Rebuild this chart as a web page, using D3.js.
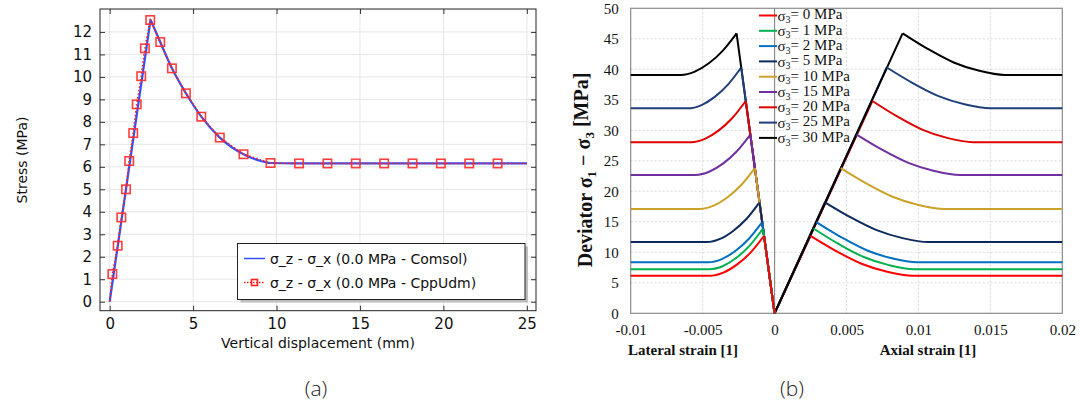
<!DOCTYPE html>
<html><head><meta charset="utf-8">
<script src="https://cdn.jsdelivr.net/npm/d3@7/dist/d3.min.js"></script>
<style>body{margin:0;background:#fff}svg{display:block}</style>
</head><body>
<svg id="c" width="1080" height="408"></svg>
<script>
// ---------- Chart (a) data ----------
const aXTicks = [0,5,10,15,20,25];
const aYTicks = [0,1,2,3,4,5,6,7,8,9,10,11,12];
const comsolDispRise = [0, 2.45];
const comsolStressRise = [0, 12.55];
const comsolDispFall = [2.45, 3.03, 3.73, 4.57, 5.49, 6.6, 8.02, 9.0, 9.64, 11.0, 25.0];
const comsolStressFall = [12.55, 11.55, 10.38, 9.27, 8.23, 7.30, 6.56, 6.27, 6.17, 6.15, 6.15];
const cppDisp = [0.16,0.48,0.70,0.98,1.17,1.41,1.62,1.89,2.11,2.43,3.03,3.73,4.57,5.49,6.60,8.02,9.64,11.35,13.05,14.75,16.45,18.15,19.85,21.55,23.25];
const cppStress = [1.23,2.49,3.75,5.00,6.26,7.50,8.78,10.03,11.27,12.53,11.55,10.38,9.27,8.23,7.30,6.56,6.17,6.15,6.15,6.15,6.15,6.15,6.15,6.15,6.15];
const aLegend = ["σ_z - σ_x (0.0 MPa - Comsol)", "σ_z - σ_x (0.0 MPa - CppUdm)"];

// ---------- Chart (b) data ----------
const bXTicks = [-0.01,-0.005,0,0.005,0.01,0.015,0.02];
const bXTickLabels = ["-0.01","-0.005","0","0.005","0.01","0.015","0.02"];
const bYTicks = [0,5,10,15,20,25,30,35,40,45,50];
const sigma3 = [0,1,2,5,10,15,20,25,30];
const bColors = ["#ff0000","#00b050","#0070c0","#0d2a5c","#c9a227","#7030a0","#e00000","#1f3f7a","#000000"];
// lateral branch: residual plateau -> hardening -> peak
const latX = [
 [-0.01,-0.0045,-0.00356,-0.00262,-0.00167,-0.00073],
 [-0.01,-0.0045,-0.00358,-0.00265,-0.00173,-0.0008],
 [-0.01,-0.0046,-0.00367,-0.00273,-0.0018,-0.00086],
 [-0.01,-0.0047,-0.00379,-0.00288,-0.00196,-0.00105],
 [-0.01,-0.0052,-0.00424,-0.00329,-0.00233,-0.00137],
 [-0.01,-0.0055,-0.00455,-0.00359,-0.00264,-0.00168],
 [-0.01,-0.0058,-0.00485,-0.0039,-0.00295,-0.002],
 [-0.01,-0.006,-0.00508,-0.00416,-0.00324,-0.00232],
 [-0.01,-0.0065,-0.00554,-0.00457,-0.00361,-0.00264]
];
const latY = [
 [6.15,6.15,6.67,7.98,9.95,12.7],
 [7.23,7.23,7.76,9.10,11.10,13.9],
 [8.36,8.36,8.89,10.21,12.18,14.95],
 [11.67,11.67,12.19,13.5,15.46,18.2],
 [17.1,17.1,17.64,18.98,20.99,23.8],
 [22.67,22.67,23.2,24.53,26.52,29.3],
 [28.05,28.05,28.59,29.94,31.97,34.8],
 [33.6,33.6,34.14,35.48,37.49,40.3],
 [39.07,39.07,39.62,40.98,43.03,45.9]
];
// axial branch: peak -> softening -> residual plateau
const axX = [
 [0.0025,0.00428,0.00605,0.00783,0.0096,0.02],
 [0.0027,0.00445,0.0062,0.00795,0.0097,0.02],
 [0.0029,0.00465,0.0064,0.00815,0.0099,0.02],
 [0.0035,0.0053,0.0071,0.0089,0.0107,0.02],
 [0.0046,0.0064,0.0082,0.0100,0.0118,0.02],
 [0.0057,0.0075,0.0093,0.0111,0.0129,0.02],
 [0.0068,0.00855,0.0103,0.01205,0.0138,0.02],
 [0.0078,0.0096,0.0114,0.0132,0.015,0.02],
 [0.0089,0.01068,0.01245,0.01423,0.016,0.02]
];
const axY = [
 [12.7,10.21,8.12,6.8,6.15,6.15],
 [13.9,11.37,9.23,7.9,7.23,7.23],
 [14.95,12.45,10.34,9.02,8.36,8.36],
 [18.2,15.72,13.63,12.32,11.67,11.67],
 [23.8,21.25,19.11,17.77,17.1,17.1],
 [29.3,26.78,24.66,23.33,22.67,22.67],
 [34.8,32.23,30.07,28.72,28.05,28.05],
 [40.3,37.75,35.61,34.27,33.6,33.6],
 [45.9,43.3,41.12,39.75,39.07,39.07]
];

const svg = d3.select("#c");

// ================= Chart (a) =================
(function(){
  const L=100,R=536,T=9,B=310.7;
  const x = d3.scaleLinear().domain([-0.58,25.55]).range([L,R]);
  const y = d3.scaleLinear().domain([-0.4,13.02]).range([B,T]);
  const g = svg.append("g");
  const font = "DejaVu Sans, sans-serif";
  g.selectAll(".gx").data(aXTicks).join("line").attr("x1",d=>x(d)).attr("x2",d=>x(d)).attr("y1",T).attr("y2",B).attr("stroke","#e6e6e6");
  g.selectAll(".gy").data(aYTicks).join("line").attr("y1",d=>y(d)).attr("y2",d=>y(d)).attr("x1",L).attr("x2",R).attr("stroke","#e6e6e6");
  const ax = g.append("g").attr("transform",`translate(0,${B})`).call(d3.axisBottom(x).tickValues(aXTicks).tickSizeInner(-5).tickSizeOuter(0).tickPadding(8));
  const ay = g.append("g").attr("transform",`translate(${L},0)`).call(d3.axisLeft(y).tickValues(aYTicks).tickSizeInner(-5).tickSizeOuter(0).tickPadding(8));
  const at = g.append("g").attr("transform",`translate(0,${T})`).call(d3.axisTop(x).tickValues(aXTicks).tickSizeInner(-5).tickSizeOuter(0).tickFormat(""));
  const ar = g.append("g").attr("transform",`translate(${R},0)`).call(d3.axisRight(y).tickValues(aYTicks).tickSizeInner(-5).tickSizeOuter(0).tickFormat(""));
  [ax,ay,at,ar].forEach(a=>{a.select(".domain").remove();a.selectAll("line").attr("stroke","#333");a.selectAll("text").attr("font-family",font).attr("font-size",15).attr("fill","#111");});
  g.append("rect").attr("x",L).attr("y",T).attr("width",R-L).attr("height",B-T).attr("fill","none").attr("stroke","#222").attr("stroke-width",1);
  const lineLin = d3.line().x(d=>x(d[0])).y(d=>y(d[1]));
  const lineMono = d3.line().x(d=>x(d[0])).y(d=>y(d[1])).curve(d3.curveMonotoneX);
  const rise = comsolDispRise.map((d,i)=>[d,comsolStressRise[i]]);
  const fall = comsolDispFall.map((d,i)=>[d,comsolStressFall[i]]);
  g.append("path").attr("d",lineLin(rise)).attr("fill","none").attr("stroke","#3050ff").attr("stroke-width",2.2);
  g.append("path").attr("d",lineMono(fall)).attr("fill","none").attr("stroke","#3050ff").attr("stroke-width",2.2);
  const cpp = [[0,0]].concat(cppDisp.map((d,i)=>[d,cppStress[i]]));
  const cppAll = cpp.concat([[25,6.15]]);
  g.append("path").attr("d",lineLin(cppAll)).attr("fill","none").attr("stroke","#ff2020").attr("stroke-width",1.6).attr("stroke-dasharray","1.6,2");
  g.selectAll(".mk").data(cppDisp.map((d,i)=>[d,cppStress[i]])).join("rect")
    .attr("x",d=>x(d[0])-4.2).attr("y",d=>y(d[1])-4.2).attr("width",8.4).attr("height",8.4)
    .attr("fill","none").attr("stroke","#ff2a2a").attr("stroke-width",1.6).attr("stroke-opacity",0.9);
  const lx=237.5,ly=243.5,lw=287.5,lh=56;
  g.append("rect").attr("x",lx+3).attr("y",ly+3).attr("width",lw).attr("height",lh).attr("fill","#bdbdbd");
  g.append("rect").attr("x",lx).attr("y",ly).attr("width",lw).attr("height",lh).attr("fill","#fff").attr("stroke","#222");
  const r1=258.5,r2=282.5;
  g.append("line").attr("x1",244).attr("x2",265).attr("y1",r1).attr("y2",r1).attr("stroke","#3050ff").attr("stroke-width",1.5);
  g.append("line").attr("x1",244).attr("x2",265).attr("y1",r2).attr("y2",r2).attr("stroke","#ff2020").attr("stroke-width",1.5).attr("stroke-dasharray","1.5,1.5");
  g.append("rect").attr("x",251.5).attr("y",r2-3).attr("width",6).attr("height",6).attr("fill","none").attr("stroke","#ff2020").attr("stroke-width",1.6);
  g.selectAll(".lt").data(aLegend).join("text").attr("x",270).attr("y",(d,i)=>i?r2:r1).attr("dy","0.36em")
    .attr("font-family",font).attr("font-size",14).attr("fill","#111").text(d=>d);
  g.append("text").attr("transform","translate(22,160) rotate(-90)").attr("text-anchor","middle").attr("dy","0.36em")
    .attr("font-family",font).attr("font-size",14).attr("fill","#111").text("Stress (MPa)");
  g.append("text").attr("x",318).attr("y",343).attr("text-anchor","middle").attr("dy","0.36em")
    .attr("font-family",font).attr("font-size",14).attr("fill","#111").text("Vertical displacement (mm)");
  g.append("text").attr("x",316).attr("y",388).attr("text-anchor","middle").attr("dy","0.36em")
    .attr("font-family","Open Sans, sans-serif").attr("font-weight",300).attr("font-size",21).attr("fill","#222").text("(a)");
})();

// ================= Chart (b) =================
(function(){
  const L=630.7,R=1062.3,T=8.3,B=313.3;
  const x = d3.scaleLinear().domain([-0.01,0.02]).range([L,R]);
  const y = d3.scaleLinear().domain([0,50]).range([B,T]);
  const g = svg.append("g");
  const serif = "Liberation Serif, 'Times New Roman', serif";
  g.selectAll(".gx").data(bXTicks.slice(1,-1)).join("line").attr("x1",d=>x(d)).attr("x2",d=>x(d)).attr("y1",T).attr("y2",B).attr("stroke","#d9d9d9").attr("stroke-dasharray","2,2");
  g.selectAll(".gy").data(bYTicks.slice(1,-1)).join("line").attr("y1",d=>y(d)).attr("y2",d=>y(d)).attr("x1",L).attr("x2",R).attr("stroke","#d9d9d9").attr("stroke-dasharray","2,2");
  g.append("rect").attr("x",L).attr("y",T).attr("width",R-L).attr("height",B-T).attr("fill","none").attr("stroke","#8c8c8c").attr("stroke-width",1.2);
  g.append("line").attr("x1",x(0)).attr("x2",x(0)).attr("y1",T).attr("y2",B).attr("stroke","#8c8c8c").attr("stroke-width",1.2);
  const ax = g.append("g").attr("transform",`translate(0,${B})`).call(d3.axisBottom(x).tickValues(bXTicks).tickFormat((d,i)=>bXTickLabels[i]).tickSize(0).tickPadding(11));
  const ay = g.append("g").attr("transform",`translate(${L},0)`).call(d3.axisLeft(y).tickValues(bYTicks).tickSize(0).tickPadding(12));
  [ax,ay].forEach(a=>{a.select(".domain").remove();a.selectAll("text").attr("font-family",serif).attr("font-size",15).attr("fill","#111");});
  const lineMono = d3.line().x(d=>x(d[0])).y(d=>y(d[1])).curve(d3.curveMonotoneX);
  const lineLin = d3.line().x(d=>x(d[0])).y(d=>y(d[1]));
  sigma3.forEach((s,i)=>{
    g.append("path").attr("d",lineLin([[0,0],[axX[i][0],axY[i][0]]])).attr("fill","none").attr("stroke",bColors[i]).attr("stroke-width",2);
  });
  sigma3.forEach((s,i)=>{
    const lat = latX[i].map((d,j)=>[d,latY[i][j]]);
    const axl = axX[i].map((d,j)=>[d,axY[i][j]]);
    g.append("path").attr("d",lineMono(lat)).attr("fill","none").attr("stroke",bColors[i]).attr("stroke-width",2);
    g.append("path").attr("d",lineMono(axl)).attr("fill","none").attr("stroke",bColors[i]).attr("stroke-width",2);
  });
  sigma3.slice().reverse().forEach((s,k)=>{
    const i = sigma3.length-1-k;
    const last = latX[i].length-1;
    g.append("path").attr("d",lineLin([[latX[i][last],latY[i][last]],[0,0]])).attr("fill","none").attr("stroke",bColors[i]).attr("stroke-width",2);
  });
  const lg = g.append("g");
  sigma3.forEach((s,i)=>{
    const yy = 15.5 + i*15.3;
    lg.append("line").attr("x1",759).attr("x2",777).attr("y1",yy).attr("y2",yy).attr("stroke",bColors[i]).attr("stroke-width",2);
    const t = lg.append("text").attr("x",777.5).attr("y",yy).attr("dy","0.34em").attr("font-family",serif).attr("font-size",15).attr("fill","#111");
    t.append("tspan").text("σ");
    t.append("tspan").attr("font-size",10).attr("dy","0.25em").text("3");
    t.append("tspan").attr("dy","-0.25em").text("= " + s + " MPa");
  });
  const yl = g.append("text").attr("transform","translate(585,170) rotate(-90)").attr("text-anchor","middle").attr("dy","0.35em")
    .attr("font-family",serif).attr("font-weight","bold").attr("font-size",20).attr("fill","#111");
  yl.append("tspan").text("Deviator σ");
  yl.append("tspan").attr("font-size",13).attr("dy","0.3em").text("1");
  yl.append("tspan").attr("dy","-0.3em").text(" − σ");
  yl.append("tspan").attr("font-size",13).attr("dy","0.3em").text("3");
  yl.append("tspan").attr("dy","-0.3em").text(" [MPa]");
  g.append("text").attr("x",683).attr("y",350).attr("text-anchor","middle").attr("dy","0.35em")
    .attr("font-family",serif).attr("font-weight","bold").attr("font-size",15).attr("fill","#111").text("Lateral strain [1]");
  g.append("text").attr("x",928).attr("y",350).attr("text-anchor","middle").attr("dy","0.35em")
    .attr("font-family",serif).attr("font-weight","bold").attr("font-size",15).attr("fill","#111").text("Axial strain [1]");
  g.append("text").attr("x",792).attr("y",388).attr("text-anchor","middle").attr("dy","0.36em")
    .attr("font-family","Open Sans, sans-serif").attr("font-weight",300).attr("font-size",21).attr("fill","#222").text("(b)");
})();
</script>
</body></html>
